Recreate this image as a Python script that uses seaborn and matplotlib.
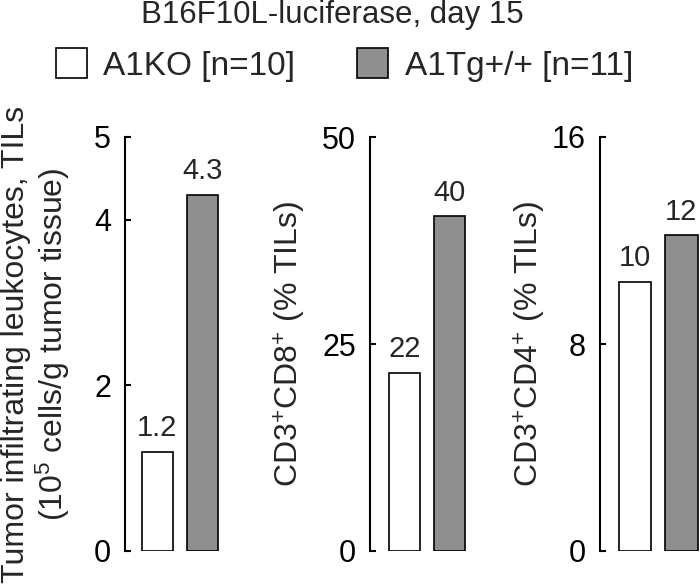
import matplotlib
matplotlib.use('Agg')
import matplotlib.pyplot as plt
import seaborn as sns
from matplotlib.patches import Patch

# Данные
groups = ['A1KO [n=10]', 'A1Tg+/+ [n=11]']
colors = ['white', '#8f8f8f']

tils = [1.2, 4.3]
tils_labels = ['1.2', '4.3']
cd8 = [21.5, 40.4]
cd8_labels = ['22', '40']
cd4 = [10.4, 12.2]
cd4_labels = ['10', '12']

sns.set_theme(style='white')
plt.rcParams['font.family'] = ['Liberation Sans', 'DejaVu Sans']
plt.rcParams['mathtext.fontset'] = 'custom'
plt.rcParams['mathtext.rm'] = 'Liberation Sans'
plt.rcParams['mathtext.it'] = 'Liberation Sans:italic'
plt.rcParams['mathtext.default'] = 'regular'

fig = plt.figure(figsize=(7, 5.84), dpi=100)

bottom = 1 - 551 / 584
height = (551 - 137) / 584

panels = [
    dict(left=125, vals=tils, labels=tils_labels, ymax=5, ticks=[0, 2, 4, 5],
         xlim=(-0.72, 1.5), lab_x=-0.53,
         ylabel='Tumor infiltrating leukocytes, TILs\n(10$^5$ cells/g tumor tissue)'),
    dict(left=370, vals=cd8, labels=cd8_labels, ymax=50, ticks=[0, 25, 50],
         xlim=(-0.77, 1.45), lab_x=-0.62,
         ylabel='CD3$^{{+}}$CD8$^{{+}}$ (% TILs)'),
    dict(left=600, vals=cd4, labels=cd4_labels, ymax=16, ticks=[0, 8, 16],
         xlim=(-0.75, 1.40), lab_x=-0.52,
         ylabel='CD3$^{{+}}$CD4$^{{+}}$ (% TILs)'),
]

for p in panels:
    ax = fig.add_axes([p['left'] / 700, bottom, 100 / 700, height])
    sns.barplot(x=groups, y=p['vals'], hue=groups, palette=dict(zip(groups, colors)),
                edgecolor='black', linewidth=1.2, width=0.7, dodge=False,
                legend=False, ax=ax)
    for i, (v, lab) in enumerate(zip(p['vals'], p['labels'])):
        ax.annotate(lab, (i, v), xytext=(0, 7), textcoords='offset points',
                    ha='center', va='bottom', fontsize=21)
    ax.set_xlim(*p['xlim'])
    ax.set_ylim(0, p['ymax'])
    ax.set_yticks(p['ticks'])
    ax.set_xticks([])
    ax.set_xlabel('')
    ax.set_ylabel(p['ylabel'], fontsize=23, linespacing=1.1)
    ax.yaxis.set_label_coords(p['lab_x'], 0.5)
    for s in ['top', 'right', 'bottom']:
        ax.spines[s].set_visible(False)
    ax.spines['left'].set_linewidth(1.5)
    ax.spines['left'].set_color('black')
    ax.tick_params(axis='y', direction='in', length=4, width=1.5, pad=10,
                   labelsize=22, left=True, colors='black')
    ax.patch.set_alpha(0)

fig.text(0.475, 1 - 23 / 584, 'B16F10L-luciferase, day 15', ha='center', va='baseline',
         fontsize=22.5)

handles = [Patch(facecolor=c, edgecolor='black', linewidth=1.2) for c in colors]
fig.legend(handles, groups, loc='center', bbox_to_anchor=(0.492, 1 - 65 / 584),
           ncol=2, frameon=False, fontsize=24, handlelength=0.93, handleheight=1.0,
           handletextpad=0.5, columnspacing=1.85, borderpad=0.1)

fig.savefig('out.png', dpi=100)
